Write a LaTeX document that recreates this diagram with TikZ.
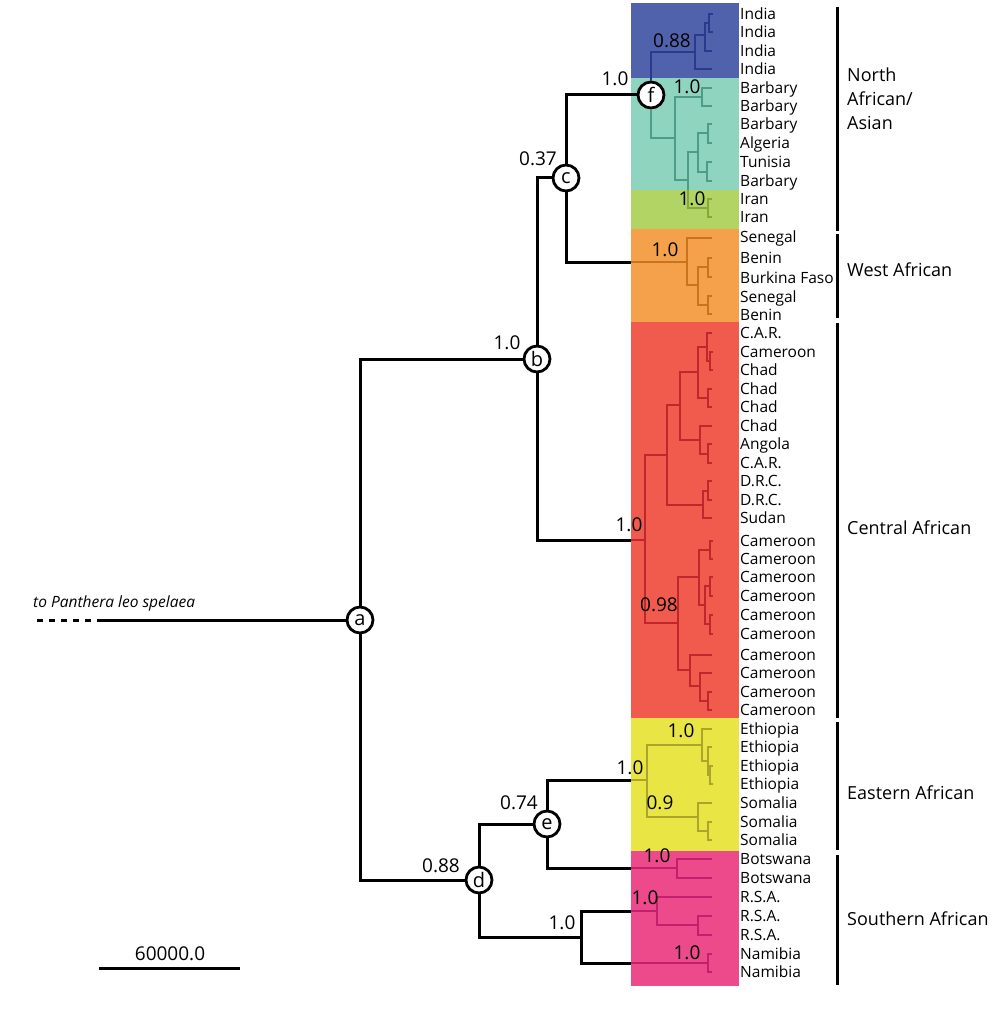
\documentclass[tikz,border=0pt]{standalone}
\usepackage{fontspec}
\setmainfont{Open Sans}

% band fills
\definecolor{indiabg}{RGB}{81,98,173}
\definecolor{barbbg}{RGB}{142,212,190}
\definecolor{iranbg}{RGB}{178,212,100}
\definecolor{westbg}{RGB}{245,161,75}
\definecolor{centbg}{RGB}{240,91,78}
\definecolor{eastbg}{RGB}{233,229,68}
\definecolor{southbg}{RGB}{236,74,139}
% branch colours
\definecolor{indialn}{RGB}{43,58,140}
\definecolor{barbln}{RGB}{78,155,134}
\definecolor{iranln}{RGB}{134,168,58}
\definecolor{westln}{RGB}{200,116,31}
\definecolor{centln}{RGB}{192,39,45}
\definecolor{eastln}{RGB}{171,165,43}
\definecolor{southln}{RGB}{196,31,110}

\tikzset{
  branch/.style={line width=3pt},
  clade/.style={line width=2.8pt},
  inode/.style={circle, draw, fill=white, line width=2.8pt, minimum size=26pt, inner sep=0pt, font=\fontsize{20}{20}\selectfont},
  supp/.style={inner sep=0pt, text height=13.5pt, text depth=0pt, font=\fontsize{19}{19}\selectfont},
  leaf/.style={anchor=west, inner sep=0pt, text height=11pt, text depth=0pt, font=\fontsize{15.5}{15.5}\selectfont},
  region/.style={anchor=west, inner sep=0pt, align=left, font=\fontsize{18}{24}\selectfont},
  groupbar/.style={line width=3pt}
}

% one split of a subtree: node at x=#1, upper child y=#2 ending at x=#3, lower child y=#4 ending at x=#5
\newcommand{\tfork}[5]{\draw (#3,#2) -| (#1,#4) -- (#5,#4);}

\begin{document}
\begin{tikzpicture}[x=1pt,y=-1pt]
\useasboundingbox (0,0) rectangle (995,1024);

%Colour bands
\fill[indiabg] (631,3) rectangle (739,78);
\fill[barbbg] (631,78) rectangle (739,190);
\fill[iranbg] (631,190) rectangle (739,229);
\fill[westbg] (631,229) rectangle (739,322);
\fill[centbg] (631,322) rectangle (739,718);
\fill[eastbg] (631,718) rectangle (739,851);
\fill[southbg] (631,851) rectangle (739,986);

%Internal nodes
\node[inode] (a) at (360,620) {a};
\node[inode] (b) at (537,359) {b};
\node[inode] (c) at (566,178) {c};
\node[inode] (d) at (479,880) {d};
\node[inode] (e) at (547,824) {e};
\node[inode] (f) at (651,95) {f};

%Ends of the black branches at the bands
\coordinate (root) at (103,620);
\coordinate (tip) at (33,620);
\coordinate (wst) at (631,262);
\coordinate (cen) at (631,540);
\coordinate (eas) at (631,780);
\coordinate (bot) at (631,868);
\coordinate (s0) at (581,937);
\coordinate (rsa) at (631,911);
\coordinate (nam) at (631,963);

%Black tree
\draw[branch] (a) -- (root);
\draw[branch, dash pattern=on 6pt off 6pt] (root) -- (tip);
\draw[branch] (a) |- (b);
\draw[branch] (a) |- (d);
\draw[branch] (b) |- (c);
\draw[branch] (b) |- (cen);
\draw[branch] (c) |- (f);
\draw[branch] (c) |- (wst);
\draw[branch] (d) |- (e);
\draw[branch] (d) |- (s0);
\draw[branch] (rsa) -| (s0) |- (nam);
\draw[branch] (e) |- (eas);
\draw[branch] (e) |- (bot);

%India
\begin{scope}[clade, indialn]
  \draw (f) |- (695,52);
  \tfork{695}{35}{705}{69}{712}
  \tfork{705}{23}{709}{51}{712}
  \tfork{709}{14}{713}{32}{713}
\end{scope}
%Barbary
\begin{scope}[clade, barbln]
  \draw (f) |- (675,138);
  \tfork{675}{97}{702}{180}{688}
  \tfork{702}{88}{712}{106}{712}
  \draw (698,152) -| (688,190);
  \tfork{698}{133}{708}{172}{707}
  \tfork{708}{124}{712}{143}{712}
  \tfork{707}{162}{712}{181}{712}
\end{scope}
%Iran
\begin{scope}[clade, iranln]
  \draw (688,190) |- (708,208);
  \tfork{708}{199}{712}{217}{712}
\end{scope}
%West
\begin{scope}[clade, westln]
  \draw (wst) -- (687,262);
  \tfork{687}{238}{712}{285}{698}
  \tfork{698}{267}{708}{305}{708}
  \tfork{708}{258}{712}{277}{712}
  \tfork{708}{296}{712}{314}{712}
\end{scope}
%Central
\begin{scope}[clade, centln]
  \draw (cen) -- (645,540);
  \tfork{645}{455}{667}{623}{678}
  \tfork{667}{405}{680}{505}{703}
  \tfork{680}{372}{698}{440}{700}
  \tfork{698}{347}{707}{398}{708}
  \tfork{707}{333}{712}{361}{710}
  \tfork{710}{352}{713}{370}{713}
  \tfork{708}{389}{712}{407}{712}
  \tfork{700}{426}{712}{454}{708}
  \tfork{708}{444}{712}{463}{712}
  \tfork{703}{491}{708}{518}{712}
  \tfork{708}{481}{712}{500}{712}
  \tfork{678}{577}{699}{670}{690}
  \tfork{699}{550}{710}{605}{705}
  \tfork{710}{541}{713}{559}{713}
  \tfork{705}{586}{710}{624}{710}
  \tfork{710}{577}{713}{596}{713}
  \tfork{710}{615}{713}{634}{713}
  \tfork{690}{655}{712}{686}{700}
  \tfork{700}{673}{712}{701}{708}
  \tfork{708}{692}{712}{710}{712}
\end{scope}
%Eastern
\begin{scope}[clade, eastln]
  \draw (eas) -- (647,780);
  \tfork{647}{745}{702}{817}{698}
  \tfork{702}{729}{712}{761}{708}
  \tfork{708}{747}{712}{775}{710}
  \tfork{710}{766}{713}{784}{713}
  \tfork{698}{803}{712}{831}{708}
  \tfork{708}{822}{712}{840}{712}
\end{scope}
%Southern
\begin{scope}[clade, southln]
  \draw (bot) -- (677,868);
  \tfork{677}{859}{712}{878}{712}
  \draw (rsa) -- (657,911);
  \tfork{657}{897}{712}{925}{698}
  \tfork{698}{916}{712}{935}{712}
  \draw (nam) -- (708,963);
  \tfork{708}{954}{712}{972}{712}
\end{scope}

% Text Node: supports
\node[supp] (sb) at (507,343) {1.0};
\node[supp] (sc) at (538,159) {0.37};
\node[supp] (sf) at (615,79) {1.0};
\node[supp] (sind) at (672,41) {0.88};
\node[supp] (sbar) at (687,87) {1.0};
\node[supp] (sir) at (692,199) {1.0};
\node[supp] (swst) at (665,250) {1.0};
\node[supp] (scen) at (629,525) {1.0};
\node[supp] (scam) at (659,605) {0.98};
\node[supp] (sd) at (441,866) {0.88};
\node[supp] (se) at (519,803) {0.74};
\node[supp] (seas) at (630,768) {1.0};
\node[supp] (seth) at (681,731) {1.0};
\node[supp] (ssom) at (660,803) {0.9};
\node[supp] (sbot) at (657,856) {1.0};
\node[supp] (ss0) at (562,923) {1.0};
\node[supp] (srsa) at (645,898) {1.0};
\node[supp] (snam) at (687,953) {1.0};

% Text Node: leaves
\foreach \y/\txt [count=\i] in {14/India, 32/India, 51/India, 69/India,
    88/Barbary, 106/Barbary, 124/Barbary, 143/Algeria, 162/Tunisia, 181/Barbary,
    199/Iran, 217/Iran,
    237/Senegal, 258/Benin, 278/Burkina Faso, 297/Senegal, 315/Benin,
    333/C.A.R., 352/Cameroon, 370/Chad, 389/Chad, 407/Chad, 426/Chad,
    444/Angola, 463/C.A.R., 481/D.R.C., 500/D.R.C., 518/Sudan,
    541/Cameroon, 559/Cameroon, 577/Cameroon, 596/Cameroon, 615/Cameroon,
    634/Cameroon, 655/Cameroon, 673/Cameroon, 692/Cameroon, 710/Cameroon,
    729/Ethiopia, 747/Ethiopia, 766/Ethiopia, 784/Ethiopia,
    803/Somalia, 822/Somalia, 840/Somalia,
    859/Botswana, 878/Botswana, 897/R.S.A., 916/R.S.A., 935/R.S.A.,
    954/Namibia, 972/Namibia}
  \node[leaf] (leaf\i) at (740,\y) {\txt};

%Group bars
\draw[groupbar] (837,7) -- (837,231);
\draw[groupbar] (837,234) -- (837,318);
\draw[groupbar] (837,323) -- (837,718);
\draw[groupbar] (837,722) -- (837,850);
\draw[groupbar] (837,855) -- (837,985);

% Text Node: groups
\node[region] (gnorth) at (847,99) {North\\African/\\Asian};
\node[region] (gwest) at (847,270) {West African};
\node[region] (gcent) at (847,528) {Central African};
\node[region] (geast) at (847,793) {Eastern African};
\node[region] (gsouth) at (847,919) {Southern African};

% Text Node: outgroup
\node[anchor=west, inner sep=0pt, font=\fontsize{15.5}{15.5}\selectfont\itshape] (outg) at (33,603) {to Panthera leo spelaea};

%Scale bar
\coordinate (sbl) at (99,968);
\coordinate (sbr) at (240,968);
\draw[branch] (sbl) -- (sbr);
\node[supp] (sblab) at (170,954) {60000.0};
\end{tikzpicture}
\end{document}
